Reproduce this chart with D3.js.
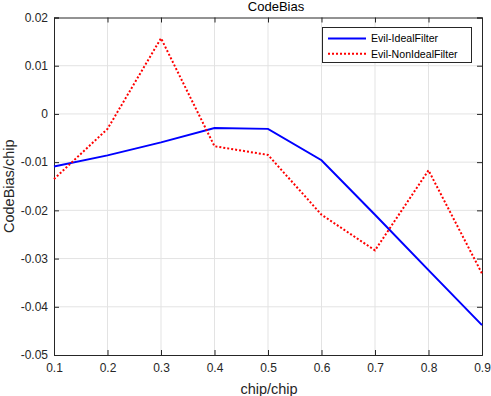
<!DOCTYPE html>
<html><head><meta charset="utf-8">
<script src="https://cdn.jsdelivr.net/npm/d3@7"></script>
<style>
html,body{margin:0;padding:0;background:#fff;}
svg{display:block;font-family:"Liberation Sans",Arial,Helvetica,sans-serif;}
</style></head>
<body>
<svg id="chart" width="491" height="396"></svg>
<script>
const xValues = [0.1, 0.2, 0.3, 0.4, 0.5, 0.6, 0.7, 0.8, 0.9];
const idealFilter = [-0.0109, -0.0086, -0.0059, -0.0029, -0.0031, -0.0096, -0.0209, -0.0324, -0.0438];
const nonIdealFilter = [-0.0135, -0.0031, 0.0157, -0.0067, -0.0085, -0.0209, -0.0283, -0.0117, -0.0331];
const xTicks = [0.1, 0.2, 0.3, 0.4, 0.5, 0.6, 0.7, 0.8, 0.9];
const yTicks = [0.02, 0.01, 0, -0.01, -0.02, -0.03, -0.04, -0.05];
const seriesNames = ["Evil-IdealFilter", "Evil-NonIdealFilter"];

const svg = d3.select("#chart");
const L = 54, R = 482, T = 17.5, B = 355;
const x = d3.scaleLinear().domain([0.1, 0.9]).range([L, R]);
const y = d3.scaleLinear().domain([-0.05, 0.02]).range([B, T]);
const axisColor = "#262626";
const fmtY = d => d === 0 ? "0" : String(+d.toFixed(2));
const fmtX = d => d.toFixed(1);

// grid
const g = svg.append("g");
g.selectAll(".gx").data(xTicks.slice(1, -1)).join("line")
  .attr("x1", d => x(d)).attr("x2", d => x(d)).attr("y1", T).attr("y2", B)
  .attr("stroke", "#e3e3e3").attr("stroke-width", 1);
g.selectAll(".gy").data(yTicks.slice(1, -1)).join("line")
  .attr("y1", d => y(d)).attr("y2", d => y(d)).attr("x1", L).attr("x2", R)
  .attr("stroke", "#e3e3e3").attr("stroke-width", 1);

// axes
const xAxisB = d3.axisBottom(x).tickValues(xTicks).tickSize(-5).tickPadding(8).tickFormat(fmtX);
const xAxisT = d3.axisTop(x).tickValues(xTicks).tickSize(-5).tickFormat("");
const yAxisL = d3.axisLeft(y).tickValues(yTicks).tickSize(-5).tickPadding(6).tickFormat(fmtY);
const yAxisR = d3.axisRight(y).tickValues(yTicks).tickSize(-5).tickFormat("");

function style(sel) {
  sel.select(".domain").attr("stroke", axisColor).attr("stroke-width", 1);
  sel.selectAll(".tick line").attr("stroke", axisColor).attr("stroke-width", 1);
  sel.selectAll(".tick text").attr("fill", axisColor).style("font-size", "12px")
     .style("font-family", '"Liberation Sans",Arial,sans-serif');
}
svg.append("g").attr("transform", `translate(0,${B})`).call(xAxisB).call(style);
svg.append("g").attr("transform", `translate(0,${T})`).call(xAxisT).call(style);
svg.append("g").attr("transform", `translate(${L},0)`).call(yAxisL).call(style);
svg.append("g").attr("transform", `translate(${R},0)`).call(yAxisR).call(style);

// lines
const line = d3.line().x((d, i) => x(xValues[i])).y(d => y(d));
svg.append("path").datum(idealFilter).attr("d", line)
  .attr("fill", "none").attr("stroke", "#0000ff").attr("stroke-width", 2);
svg.append("path").datum(nonIdealFilter).attr("d", line)
  .attr("fill", "none").attr("stroke", "#ff0000").attr("stroke-width", 2)
  .attr("stroke-dasharray", "2,2");

// title & labels
svg.append("text").attr("x", 276).attr("y", 10.5).attr("text-anchor", "middle")
  .style("font-size", "13px").attr("fill", "#000").text("CodeBias");
svg.append("text").attr("x", 269).attr("y", 393.5).attr("text-anchor", "middle")
  .style("font-size", "14.5px").attr("fill", "#262626").text("chip/chip");
svg.append("text").attr("transform", `translate(13.5,${(T + B) / 2}) rotate(-90)`)
  .attr("text-anchor", "middle").style("font-size", "14.5px").attr("fill", "#262626").text("CodeBias/chip");

// legend
const lg = svg.append("g");
lg.append("rect").attr("x", 322.5).attr("y", 27.5).attr("width", 149).attr("height", 35)
  .attr("fill", "#fff").attr("stroke", axisColor).attr("stroke-width", 1);
const styles = [{c: "#0000ff", dash: null}, {c: "#ff0000", dash: "2,2"}];
seriesNames.forEach((n, i) => {
  const cy = 38.5 + i * 15.3;
  lg.append("line").attr("x1", 328).attr("x2", 366).attr("y1", cy).attr("y2", cy)
    .attr("stroke", styles[i].c).attr("stroke-width", 2).attr("stroke-dasharray", styles[i].dash);
  lg.append("text").attr("x", 371).attr("y", cy).attr("dy", "0.35em")
    .style("font-size", "10.6px").attr("fill", "#000").text(n);
});
</script>
</body></html>
